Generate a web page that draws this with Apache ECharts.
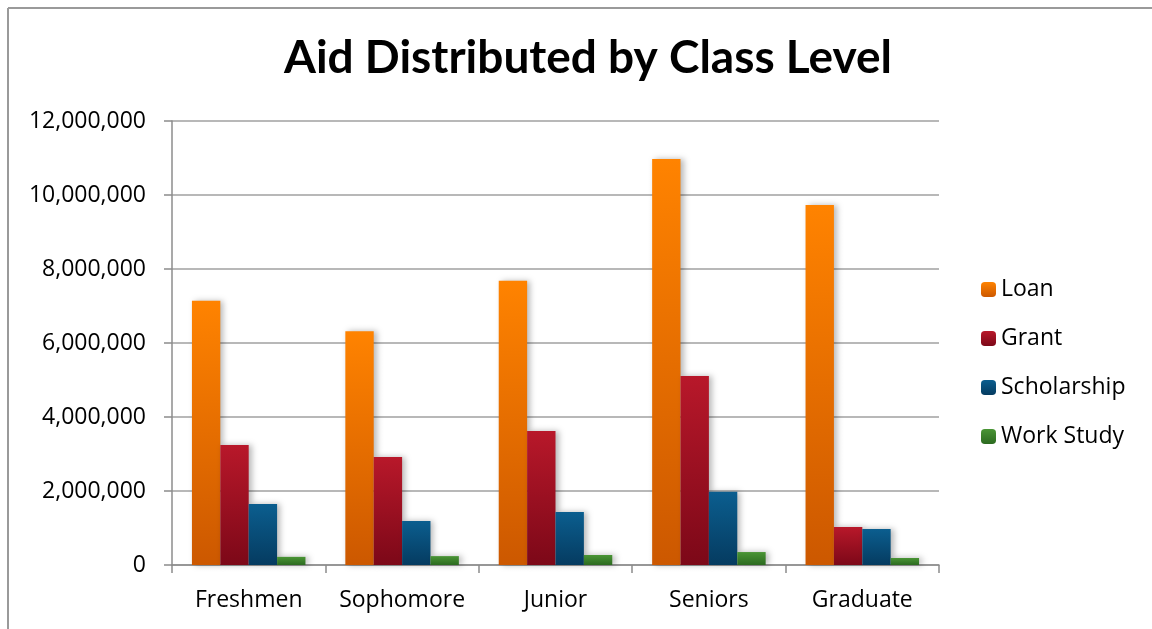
<!DOCTYPE html>
<html>
<head>
<meta charset="utf-8">
<script src="https://cdn.jsdelivr.net/npm/echarts@6/dist/echarts.min.js"></script>
<style>html,body{margin:0;padding:0;background:#fff;}#c{width:1152px;height:629px;}</style>
</head>
<body>
<div id="c"></div>
<script>
const categories = ['Freshmen', 'Sophomore', 'Junior', 'Seniors', 'Graduate'];
const loan = [7140000, 6320000, 7680000, 10970000, 9730000];
const grant = [3240000, 2920000, 3620000, 5110000, 1030000];
const scholarship = [1650000, 1190000, 1430000, 1980000, 970000];
const workStudy = [220000, 240000, 270000, 350000, 190000];
const yTicks = { min: 0, max: 12000000, interval: 2000000 };

const TFONT = 'Lato, "Open Sans", sans-serif';
const FONT = '"Open Sans", Lato, sans-serif';
function grad(top, bottom) {
  return new echarts.graphic.LinearGradient(0, 0, 0, 1, [
    { offset: 0, color: top }, { offset: 1, color: bottom }
  ]);
}
function mk(name, data, top, bottom) {
  return {
    name: name, type: 'bar', data: data,
    barGap: '0%', barCategoryGap: '26%',
    itemStyle: {
      color: grad(top, bottom),
      shadowBlur: 6, shadowOffsetX: 3, shadowOffsetY: 0,
      shadowColor: 'rgba(0,0,0,0.28)'
    }
  };
}
const chart = echarts.init(document.getElementById('c'));
chart.setOption({
  animation: false,
  backgroundColor: '#fff',
  title: {
    text: 'Aid Distributed by Class Level',
    left: 583, textAlign: 'center', top: 30,
    textStyle: { fontFamily: TFONT, fontWeight: 'bold', fontSize: 46, color: '#000' }
  },
  legend: {
    orient: 'vertical', left: 981, top: 278, padding: 0,
    itemWidth: 15, itemHeight: 15, itemGap: 26,
    textStyle: { fontFamily: FONT, fontSize: 23, lineHeight: 22, color: '#000' },
    data: ['Loan', 'Grant', 'Scholarship', 'Work Study']
  },
  grid: { left: 172, right: 213, top: 121, bottom: 64 },
  xAxis: {
    type: 'category', data: categories,
    axisLine: { lineStyle: { color: '#8c8c8c', width: 1.5 } },
    axisTick: { show: true, length: 8, lineStyle: { color: '#8c8c8c', width: 1.5 } },
    axisLabel: { fontFamily: FONT, fontSize: 23, color: '#000', margin: 24, interval: 0, hideOverlap: false }
  },
  yAxis: {
    type: 'value', min: yTicks.min, max: yTicks.max, interval: yTicks.interval,
    axisLine: { show: true, lineStyle: { color: '#8c8c8c', width: 1.5 } },
    axisTick: { show: true, length: 8, lineStyle: { color: '#8c8c8c', width: 1.5 } },
    splitLine: { lineStyle: { color: '#a0a0a0', width: 1.5 } },
    axisLabel: {
      fontFamily: FONT, fontSize: 23, color: '#000', margin: 26,
      formatter: v => v.toLocaleString('en-US')
    }
  },
  graphic: [
    { type: 'line', shape: { x1: 8, y1: 8, x2: 1152, y2: 8 }, style: { stroke: '#9a9a9a', lineWidth: 2 } },
    { type: 'line', shape: { x1: 8, y1: 8, x2: 8, y2: 629 }, style: { stroke: '#9a9a9a', lineWidth: 2 } }
  ],
  series: [
    mk('Loan', loan, '#FF8300', '#CC5800'),
    mk('Grant', grant, '#B8182A', '#7C0818'),
    mk('Scholarship', scholarship, '#0B5E8F', '#053B60'),
    mk('Work Study', workStudy, '#4A9535', '#2C6A20')
  ]
});
</script>
</body>
</html>
